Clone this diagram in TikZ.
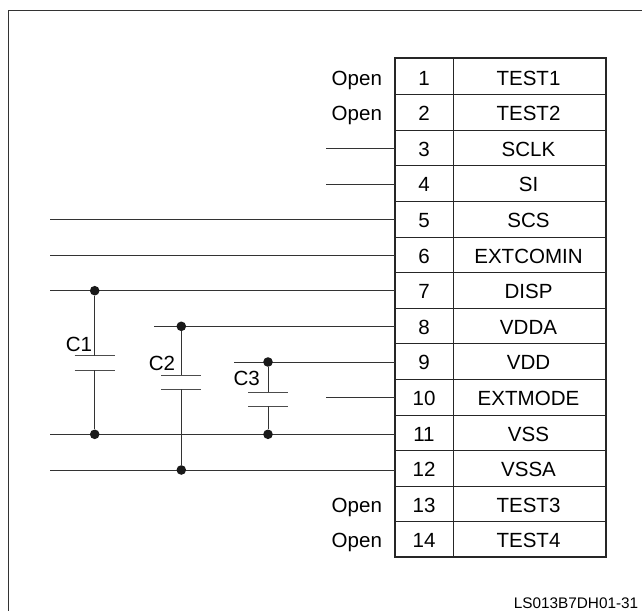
\documentclass[tikz,border=0pt]{standalone}
\usepackage{fontspec}
\setmainfont{Liberation Sans}
\tikzset{
  wire/.style={line width=0.65pt,draw=black!80},
  plate/.style={line width=0.65pt,draw=black!70},
  pin/.style={minimum width=43.5pt,minimum height=26.7pt,inner sep=0pt,text height=12.8pt,text depth=0pt,font=\fontsize{15.4}{17}\selectfont},
  signal/.style={minimum width=115.5pt,minimum height=26.7pt,inner sep=0pt,text height=12.8pt,text depth=0pt,font=\fontsize{15.4}{17}\selectfont},
  open/.style={anchor=base east,inner sep=0pt,font=\fontsize{15.4}{17}\selectfont},
  capname/.style={inner sep=0pt,font=\fontsize{15.4}{17}\selectfont},
  dot/.style={circle,fill=black!90,inner sep=0pt,minimum size=7.2pt},
}
\begin{document}
\begin{tikzpicture}[x=0.75pt,y=-0.75pt]
  \useasboundingbox (0,0) rectangle (642,610);
  \path[clip] (0,0) rectangle (642,610);
  \draw[line width=0.7pt,draw=black!80] (8,615) -- (8,10.5) -- (642,10.5);
  % table rows
  \foreach \n/\s [count=\i] in {1/TEST1,2/TEST2,3/SCLK,4/SI,5/SCS,6/EXTCOMIN,7/DISP,8/VDDA,9/VDD,10/EXTMODE,11/VSS,12/VSSA,13/TEST3,14/TEST4}{
    \path (424,{58.7+35.6*(\i-0.5)}) node[pin] (P\i) {\n};
    \path (528.5,{58.7+35.6*(\i-0.5)}) node[signal] (S\i) {\s};
    \draw[line width=0.65pt,draw=black!85] (P\i.south west) -- (S\i.south east);
  }
  \draw[line width=0.65pt,draw=black!85] (P1.north east) -- (P14.south east);
  \draw[line width=1.5pt,draw=black!85] (P1.north west) rectangle (S14.south east);
  % open pins
  \foreach \i in {1,2,13,14}{
    \path (P\i.west) ++(-12.5,8.5) node[open] (O\i) {Open};
  }
  % wire starts
  \foreach \i/\xs/\dy in {3/326/1,4/326/1,5/50/0.5,6/50/0.5,7/50/0.6,8/154/0.6,9/234/0.7,10/326/0.8,11/50/1.8,12/50/1.9}{
    \path (P\i.west) ++(0,\dy) coordinate (Y\i);
    \coordinate (W\i) at (\xs,0 |- Y\i);
    \draw[wire] (W\i) -- (Y\i);
  }
  % capacitors
  \path (94.7,0 |- Y7) node[dot] (A1) {};
  \path (94.7,0 |- Y11) node[dot] (B1) {};
  \path (181.3,0 |- Y8) node[dot] (A2) {};
  \path (181.3,0 |- Y12) node[dot] (B2) {};
  \path (268,0 |- Y9) node[dot] (A3) {};
  \path (268,0 |- Y11) node[dot] (B3) {};
  \foreach \c/\top in {1/355.7,2/375,3/392}{
    \coordinate (T\c) at (A\c |- 0,\top);
    \coordinate (U\c) at (A\c |- 0,{\top+14.3});
    \draw[plate] (T\c) ++(-20,0) -- ++(40,0);
    \draw[plate] (U\c) ++(-20,0) -- ++(40,0);
    \draw[wire] (A\c) -- (T\c);
    \draw[wire] (U\c) -- (B\c);
  }
  \path (79,344.5) node[capname] (C1) {C1};
  \path (162,363.5) node[capname] (C2) {C2};
  \path (246.7,378) node[capname] (C3) {C3};
  \path (638.5,603) node[anchor=east,inner sep=0pt,font=\fontsize{11.5}{13}\selectfont] (code) {LS013B7DH01-31};
\end{tikzpicture}
\end{document}
